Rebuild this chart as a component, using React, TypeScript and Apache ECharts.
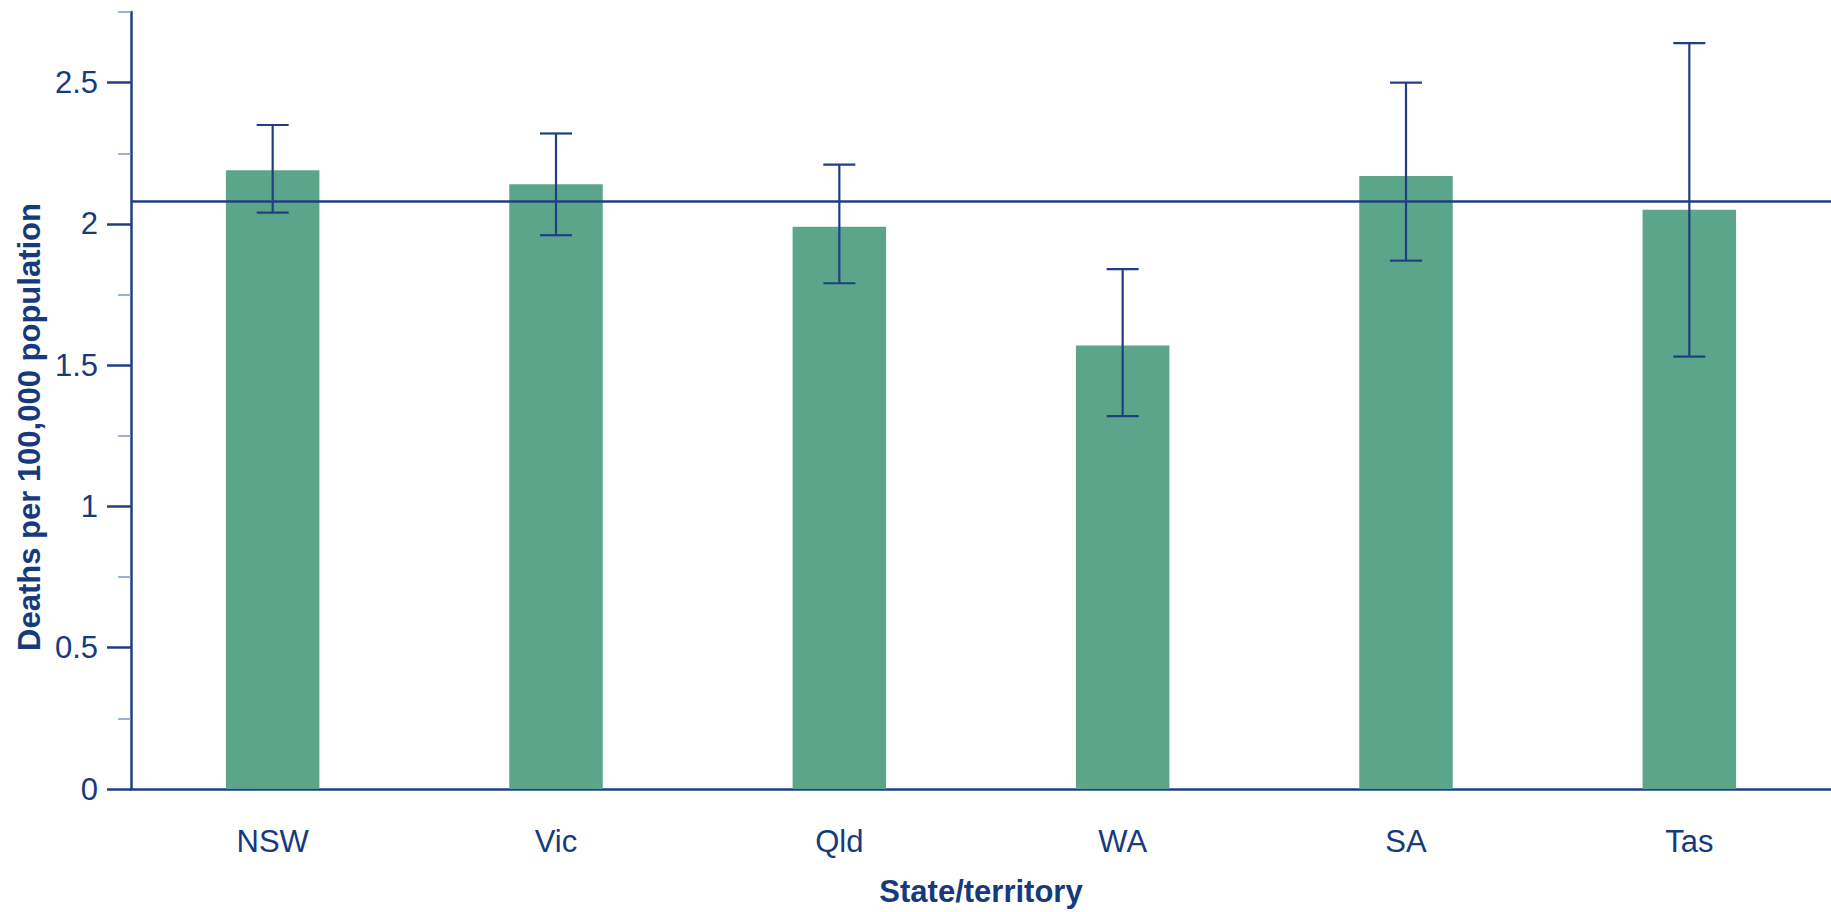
import React, { useEffect, useRef } from "react";
import * as echarts from "echarts";

const categories = ["NSW", "Vic", "Qld", "WA", "SA", "Tas"];
const rates = [2.19, 2.14, 1.99, 1.57, 2.17, 2.05];
const lowerCI = [2.04, 1.96, 1.79, 1.32, 1.87, 1.53];
const upperCI = [2.35, 2.32, 2.21, 1.84, 2.5, 2.64];
const nationalRate = 2.075;
const majorTicks = [0, 0.5, 1, 1.5, 2, 2.5];
const minorTicks = [0.25, 0.75, 1.25, 1.75, 2.25, 2.75];
const yMax = 2.75;

const NAVY = "#1f3f82";
const TEXT = "#163a7c";
const GREEN = "#5ba68b";
const FONT = "'Liberation Sans', Arial, Helvetica, sans-serif";

export default function App() {
  const ref = useRef<HTMLDivElement>(null);

  useEffect(() => {
    if (!ref.current) return;
    const chart = echarts.init(ref.current, null, { renderer: "svg" });
    const errData = categories.map((c, i) => [i, lowerCI[i], upperCI[i]]);
    chart.setOption({
      animation: false,
      backgroundColor: "#ffffff",
      grid: { left: 131, right: 0, top: 12, bottom: 119, containLabel: false },
      xAxis: {
        type: "category",
        data: categories,
        axisLine: { lineStyle: { color: NAVY, width: 2.5 } },
        axisTick: { show: false },
        axisLabel: { color: TEXT, fontSize: 31, fontFamily: FONT, margin: 37 },
        name: "State/territory",
        nameLocation: "middle",
        nameGap: 87,
        nameTextStyle: { color: TEXT, fontSize: 31, fontWeight: "bold", fontFamily: FONT },
      },
      yAxis: [
        {
          type: "value",
          min: 0,
          max: yMax,
          splitLine: { show: false },
          axisLine: { show: true, lineStyle: { color: NAVY, width: 2.5 } },
          axisTick: { show: true, length: 24, customValues: majorTicks, lineStyle: { color: NAVY, width: 2.5 } },
          axisLabel: {
            color: TEXT,
            fontSize: 31,
            fontFamily: FONT,
            margin: 33,
            customValues: majorTicks,
            formatter: (v: number) => String(v),
          },
        },
        {
          type: "value",
          position: "left",
          min: 0,
          max: yMax,
          splitLine: { show: false },
          axisLine: { show: false },
          axisTick: { show: true, length: 13, customValues: minorTicks, lineStyle: { color: "#8096c0", width: 1.5 } },
          axisLabel: { show: false },
        },
      ],
      graphic: [
        {
          type: "text",
          x: 29,
          y: 427,
          rotation: Math.PI / 2,
          style: {
            text: "Deaths per 100,000 population",
            fill: TEXT,
            font: `bold 31px ${FONT}`,
            align: "center",
            verticalAlign: "middle",
          },
        },
      ],
      series: [
        {
          type: "bar",
          data: rates,
          barWidth: "33%",
          itemStyle: { color: GREEN },
          markLine: {
            silent: true,
            symbol: ["none", "none"],
            label: { show: false },
            lineStyle: { color: NAVY, width: 2.5, type: "solid" },
            data: [{ yAxis: nationalRate }],
          },
          z: 2,
        },
        {
          type: "custom",
          data: errData,
          z: 5,
          renderItem: (params: any, api: any) => {
            const x = api.value(0);
            const lo = api.coord([x, api.value(1)]);
            const hi = api.coord([x, api.value(2)]);
            const half = 16;
            const style = { stroke: NAVY, lineWidth: 2.2 };
            return {
              type: "group",
              children: [
                { type: "line", shape: { x1: hi[0], y1: hi[1], x2: lo[0], y2: lo[1] }, style },
                { type: "line", shape: { x1: hi[0] - half, y1: hi[1], x2: hi[0] + half, y2: hi[1] }, style },
                { type: "line", shape: { x1: lo[0] - half, y1: lo[1], x2: lo[0] + half, y2: lo[1] }, style },
              ],
            };
          },
        },
      ],
    });
    return () => chart.dispose();
  }, []);

  return (
    <div
      ref={ref}
      style={{ position: "fixed", left: 0, top: 0, width: 1831, height: 912, background: "#fff" }}
    />
  );
}
